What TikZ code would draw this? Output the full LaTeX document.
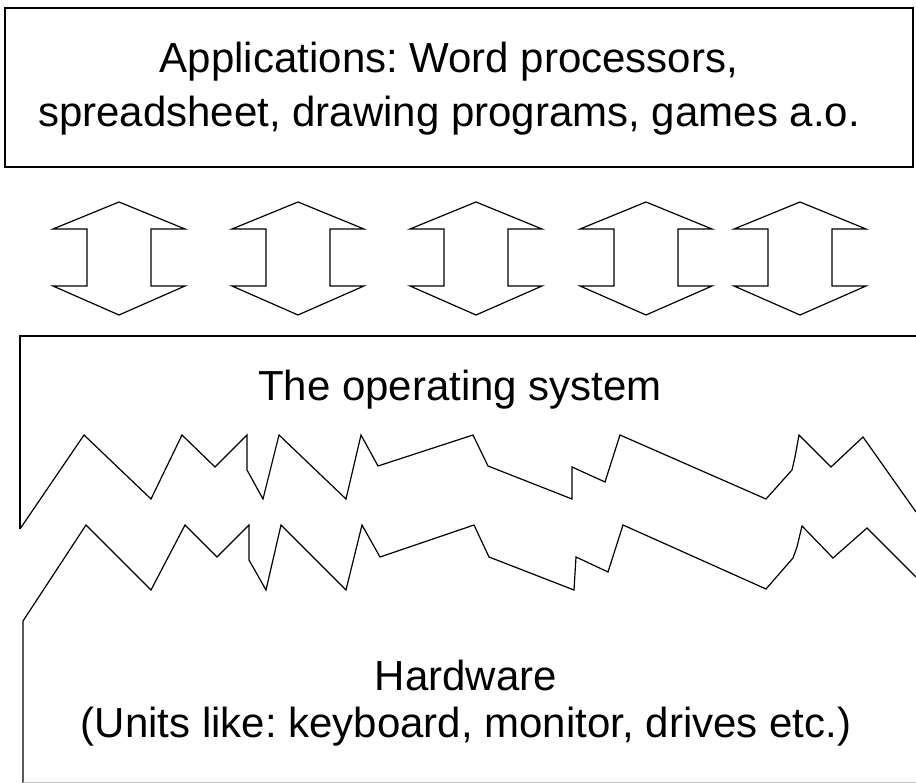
\documentclass[tikz,border=0pt]{standalone}
\usepackage{fontspec}
\setmainfont{Liberation Sans}
\frenchspacing

\begin{document}
\begin{tikzpicture}[x=1pt, y=-1pt,
    layerbox/.style={draw=black, line width=1.8pt},
    jagline/.style={draw=black, line width=1.2pt, line join=miter},
    twoway/.style={draw=black, line width=1.2pt},
    layertext/.style={inner sep=0pt, align=center, anchor=base, font=\fontsize{42}{54}\selectfont}
  ]
  \useasboundingbox (0,0) rectangle (916,783);

  % applications
  \draw[layerbox] (5,8) rectangle (913,167);
  \node[layertext] (apps) at (449,127) {Applications: Word processors,\\spreadsheet, drawing programs, games a.o.};

  % two-way arrows
  \foreach \cx in {119,298,476,646,800}
    \draw[twoway] (\cx,202) -- ++(66,27) -- ++(-34,0) -- ++(0,57) -- ++(34,0)
      -- (\cx,315) -- ++(-66,-29) -- ++(34,0) -- ++(0,-57) -- ++(-34,0) -- cycle;

  % operating system
  \draw[layerbox] (916,336) -- (20,336) -- (20,529);
  \draw[jagline] (20,529) -- (84,435) -- (151,499) -- (182,435) -- (215,467) -- (247,435)
    -- (247,470) -- (263,499) -- (279,435) -- (346,499) -- (361,435) -- (378,466)
    -- (473,435) -- (488,466) -- (572,499) -- (572,467) -- (605,482) -- (620,435)
    -- (766,499) -- (792,470) -- (795,457) -- (799,435) -- (831,467) -- (863,437) -- (916,512);
  \node[layertext] (os) at (460,401) {The operating system};

  % hardware
  \draw[jagline] (23,783) -- (23,621) -- (86,525) -- (151,590) -- (185,525) -- (217,557)
    -- (249,525) -- (249,560) -- (266,590) -- (281,525) -- (346,590) -- (362,525)
    -- (380,557) -- (474,525) -- (489,557) -- (574,590) -- (576,557) -- (608,572)
    -- (623,525) -- (766,589) -- (793,558) -- (797,547) -- (802,526) -- (833,558)
    -- (867,528) -- (916,577);
  \draw[gray!45, line width=0.8pt] (23,782.5) -- (916,782.5);
  \node[layertext, font=\fontsize{42}{47}\selectfont] (hw) at (466,737) {Hardware\\(Units like: keyboard, monitor, drives etc.)};
\end{tikzpicture}
\end{document}
